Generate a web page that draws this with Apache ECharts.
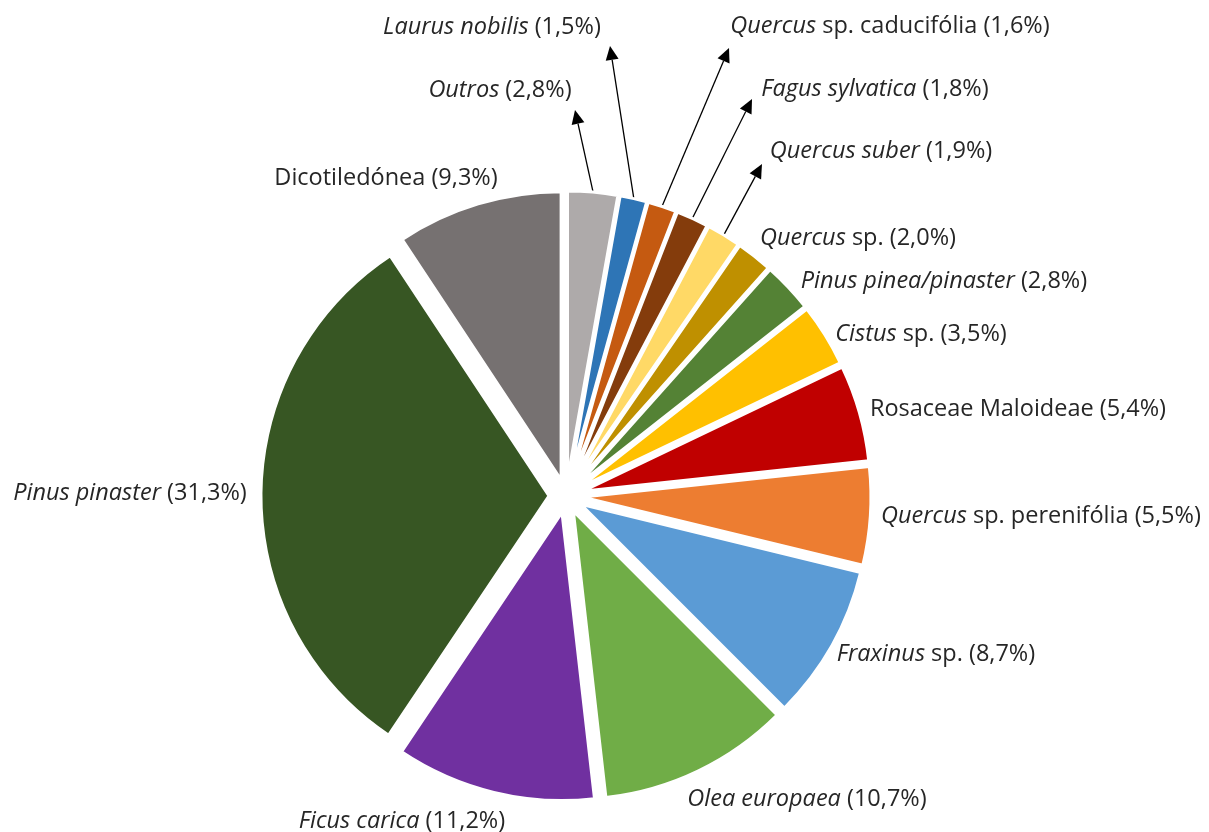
<!DOCTYPE html>
<html><head><meta charset="utf-8">
<script src="https://cdn.jsdelivr.net/npm/echarts@6/dist/echarts.min.js"></script>
<style>html,body{margin:0;padding:0;background:#fff}#c{width:1209px;height:832px}</style>
</head><body><div id="c"></div>
<script>
// ---- data ----
const italicNames = ['Outros','Laurus nobilis','Quercus','Fagus sylvatica','Quercus suber','Quercus','Pinus pinea/pinaster','Cistus','','Quercus','Fraxinus','Olea europaea','Ficus carica','Pinus pinaster',''];
const plainNames  = ['','',' sp. caducifólia','','',' sp.','',' sp.','Rosaceae Maloideae',' sp. perenifólia',' sp.','','','','Dicotiledónea'];
const values      = [2.8,1.5,1.6,1.8,1.9,2.0,2.8,3.5,5.4,5.5,8.7,10.7,11.2,31.3,9.3];

// ---- style ----
const colors = ['#AEAAAA','#2E75B6','#C55A11','#843C0C','#FFD966','#BF9000','#548235','#FFC000','#C00000','#ED7D31','#5B9BD5','#70AD47','#7030A0','#375623','#767171'];
const labelPos = [[500,90],[492,27],[890,26],[875,89],[881,151],[858,238],[944,281],[921,334],[1018,409],[1041,516],[936,654],[807,799],[402,821],[130,493],[386,178]];
const arrowTips = {0:[575,110],1:[610,46],2:[729,48],3:[752,99],4:[762,164]};
const FONT = 'Open Sans', FS = 23.5, TXT = '#262626';
const CENTER = [566,496], RADIUS = 288, OFFSET = 17;

const fmt = v => v.toFixed(1).replace('.', ',');
const labelText = i => (italicNames[i] ? '{i|' + italicNames[i] + '}' : '') + plainNames[i] + ' (' + fmt(values[i]) + '%)';

const chart = echarts.init(document.getElementById('c'), null, {renderer:'canvas'});
chart.setOption({
  animation:false,
  backgroundColor:'#fff',
  series:[{
    type:'pie', center:CENTER, radius:RADIUS, startAngle:90, clockwise:true,
    selectedMode:'multiple', selectedOffset:OFFSET,
    avoidLabelOverlap:false,
    itemStyle:{borderColor:'#fff', borderWidth:3},
    emphasis:{disabled:true},
    label:{show:false},
    labelLine:{show:false},
    data: values.map((v,i) => ({value:v, name:(italicNames[i] + plainNames[i]), selected:true, itemStyle:{color:colors[i]}}))
  }]
});

const els = [];
// labels
values.forEach((v, i) => {
  els.push({
    type:'text', x:labelPos[i][0], y:labelPos[i][1], silent:true,
    style:{
      text:labelText(i), fontFamily:FONT, fontSize:FS, fill:TXT,
      align:'center', verticalAlign:'middle',
      rich:{ i:{fontStyle:'italic', fontFamily:FONT, fontSize:FS, fill:TXT, color:TXT} }
    }
  });
});
// arrows from the slices (library layout) to their labels
let data = null;
try { data = chart.getModel().getSeriesByIndex(0).getData(); } catch(e) {}
Object.keys(arrowTips).forEach(k => {
  const i = +k;
  const lay = data && data.getItemLayout(i);
  if (!lay) return;
  const mid = (lay.startAngle + lay.endAngle) / 2;
  const R = lay.r + OFFSET + 1;
  const sx = lay.cx + R * Math.cos(mid), sy = lay.cy + R * Math.sin(mid);
  const [tx, ty] = arrowTips[i];
  const dx = tx - sx, dy = ty - sy, L = Math.hypot(dx, dy);
  const ux = dx / L, uy = dy / L, hl = 14, hw = 6.5;
  const bx = tx - ux * hl, by = ty - uy * hl;
  els.push({type:'line', shape:{x1:sx, y1:sy, x2:bx, y2:by}, style:{stroke:'#000', lineWidth:1.3}, silent:true});
  els.push({type:'polygon', shape:{points:[[tx,ty],[bx - uy*hw, by + ux*hw],[bx + uy*hw, by - ux*hw]]}, style:{fill:'#000'}, silent:true});
});
chart.setOption({graphic:{elements:els}});
</script></body></html>
